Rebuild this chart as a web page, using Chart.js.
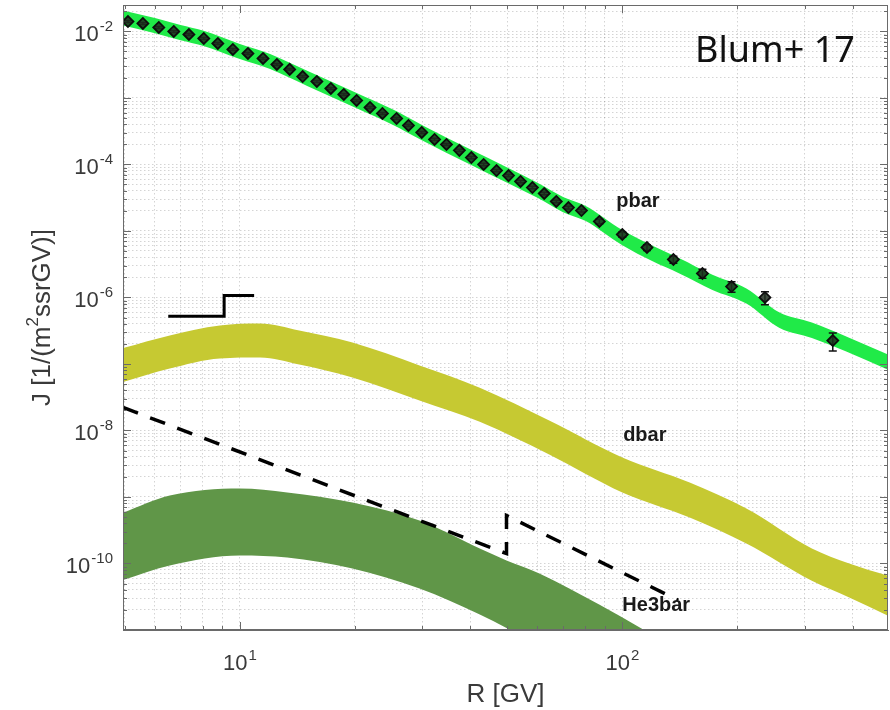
<!DOCTYPE html>
<html>
<head>
<meta charset="utf-8">
<script src="https://cdn.jsdelivr.net/npm/chart.js@4.4.1/dist/chart.umd.min.js"></script>
<style>
  html, body { margin: 0; padding: 0; background: #fff; }
  #wrap { width: 890px; height: 710px; }
</style>
</head>
<body>
<div id="wrap"><canvas id="chart" width="890" height="710"></canvas></div>
<script>
// Axis ranges (R in GV, J in 1/(m^2 s sr GV))
const xMin = 4.95, xMax = 495;
const yMin = 1e-11, yMax = 2.5e-2;

// tick labels are 10^exponent
const xTickValues = [10, 100];
const xTickExponents = ['1', '2'];
const yTickValues = [1e-10, 1e-8, 1e-6, 1e-4, 1e-2];
const yTickExponents = ['-10', '-8', '-6', '-4', '-2'];

// pbar model band
const pbarBandR = [4.9, 6, 7, 8, 10, 12, 15, 20, 25, 30, 40, 50, 60, 70, 80, 100, 120, 141, 172, 211, 257, 313, 385, 500];
const pbarBandUpper = [2.1e-2, 1.59e-2, 1.25e-2, 1.03e-2, 6.5e-3, 4.6e-3, 2.56e-3, 1.22e-3, 6.8e-4, 3.9e-4, 1.69e-4, 9.0e-5, 5.3e-5, 3.25e-5, 2.4e-5, 1.03e-5, 6.0e-6, 3.9e-6, 2.2e-6, 1.37e-6, 6.0e-7, 4.2e-7, 2.6e-7, 1.36e-7];
const pbarBandLower = [1.25e-2, 9.4e-3, 7.4e-3, 6.1e-3, 3.85e-3, 2.73e-3, 1.52e-3, 7.2e-4, 4.0e-4, 2.3e-4, 1.0e-4, 5.3e-5, 3.15e-5, 1.92e-5, 1.42e-5, 6.1e-6, 3.5e-6, 2.3e-6, 1.3e-6, 8.1e-7, 3.5e-7, 2.46e-7, 1.54e-7, 8.0e-8];

// pbar measured points
const pbarR = [5.10, 5.58, 6.14, 6.72, 7.36, 8.05, 8.76, 9.59, 10.5, 11.5, 12.5, 13.5, 14.6, 15.9, 17.3, 18.7, 20.2, 21.9, 23.6, 25.7, 27.6, 29.9, 32.3, 34.7, 37.5, 40.3, 43.4, 46.9, 50.4, 54.2, 58.2, 62.5, 67.2, 72.3, 78.2, 87.1, 100, 116, 136, 162, 193, 236, 355];
const pbarJ = [1.41e-2, 1.32e-2, 1.15e-2, 1.0e-2, 9.0e-3, 7.85e-3, 6.6e-3, 5.36e-3, 4.67e-3, 3.93e-3, 3.19e-3, 2.69e-3, 2.10e-3, 1.77e-3, 1.39e-3, 1.13e-3, 9.17e-4, 7.2e-4, 5.85e-4, 4.92e-4, 3.86e-4, 3.03e-4, 2.38e-4, 2.0e-4, 1.63e-4, 1.27e-4, 1.0e-4, 8.1e-5, 6.8e-5, 5.55e-5, 4.5e-5, 3.66e-5, 2.78e-5, 2.25e-5, 2.03e-5, 1.39e-5, 8.85e-6, 5.65e-6, 3.73e-6, 2.3e-6, 1.46e-6, 1.0e-6, 2.25e-7];
const pbarErr = [5e-4, 4.5e-4, 4e-4, 3.5e-4, 3e-4, 2.6e-4, 2.2e-4, 1.8e-4, 1.6e-4, 1.3e-4, 1.1e-4, 9e-5, 7e-5, 6e-5, 5e-5, 4e-5, 3.3e-5, 2.6e-5, 2.1e-5, 1.8e-5, 1.4e-5, 1.1e-5, 9e-6, 7.5e-6, 6e-6, 5e-6, 4e-6, 3.3e-6, 2.8e-6, 2.3e-6, 1.9e-6, 1.6e-6, 1.3e-6, 1.1e-6, 1.0e-6, 1.1e-6, 8e-7, 5.7e-7, 4.5e-7, 3.5e-7, 2.6e-7, 2.2e-7, 6.8e-8];

// dbar model band
const dbarR = [4.9, 6.56, 8.87, 11.3, 14.3, 19.7, 29.5, 42.4, 64.4, 100, 150, 211, 313, 392, 500];
const dbarUpper = [1.71e-7, 2.69e-7, 3.79e-7, 4.06e-7, 3.19e-7, 2.1e-7, 9.5e-8, 4.4e-8, 1.41e-8, 3.93e-9, 1.65e-9, 6.7e-10, 1.68e-10, 1.0e-10, 6.4e-11];
const dbarLower = [5.27e-8, 8.55e-8, 1.21e-7, 1.25e-7, 9.8e-8, 6.27e-8, 2.83e-8, 1.35e-8, 4.35e-9, 1.17e-9, 4.92e-10, 2.0e-10, 5.5e-11, 3.08e-11, 1.6e-11];

// He3bar model band
const he3R = [4.9, 6.56, 10, 13.3, 19.7, 29.5, 42.4, 49.8, 60.7, 87, 114, 141];
const he3Upper = [5.65e-10, 1.05e-9, 1.34e-9, 1.17e-9, 8.26e-10, 4.43e-10, 1.68e-10, 1.11e-10, 7.1e-11, 2.42e-11, 1.0e-11, 4.6e-12];
const he3Lower = [5.55e-11, 9.33e-11, 1.32e-10, 1.23e-10, 8.4e-11, 4.2e-11, 1.71e-11, 1.07e-11, 5.7e-12, 2.1e-12, 9.3e-13, 5.4e-13];

// sensitivity lines
const dbarSensR = [6.5, 9.1, 10.9];
const dbarSensJ = [5.2e-7, 1.07e-6, 1.07e-6];
const he3SensR = [4.95, 49.8, 49.8, 140];
const he3SensJ = [2.22e-8, 1.41e-10, 5.27e-10, 2.8e-11];

const seriesLabels = ['pbar', 'dbar', 'He3bar'];
const seriesColors = ['rgb(32,234,72)', 'rgb(198,201,50)', 'rgb(96,150,72)'];

const toPoints = (xs, ys) => xs.map((x, i) => ({ x: x, y: ys[i] }));

function logGridValues(min, max) {
  const vals = [];
  for (let e = Math.floor(Math.log10(min)); e <= Math.ceil(Math.log10(max)); e++) {
    for (let m = 1; m <= 9; m++) {
      const v = m * Math.pow(10, e);
      if (v >= min * 0.999 && v <= max * 1.001) vals.push(v);
    }
  }
  return vals;
}
const isDecade = v => Math.abs(Math.log10(v) - Math.round(Math.log10(v))) < 1e-6;

const xGrid = logGridValues(xMin, xMax);
const yGrid = logGridValues(yMin, yMax);

// text placed in data coordinates
const annotations = [
  { text: seriesLabels[0], x: 96.4, y: 2.33e-5, font: 'bold 20px "Liberation Sans", Arial, sans-serif', color: '#1a1a1a' },
  { text: seriesLabels[1], x: 100.5, y: 6.84e-9, font: 'bold 20px "Liberation Sans", Arial, sans-serif', color: '#1a1a1a' },
  { text: seriesLabels[2], x: 100, y: 1.9e-11, font: 'bold 20px "Liberation Sans", Arial, sans-serif', color: '#1a1a1a' },
  { text: 'Blum+ 17', x: 155, y: 3.42e-3, font: '36px "Noto Sans", sans-serif', color: '#111' }
];

const axisColor = '#6a6a6a';
const labelColor = '#3a3a3a';
const baseFont = '22px "Liberation Sans", Arial, sans-serif';
const expFont = '15px "Liberation Sans", Arial, sans-serif';
const titleFont = '26px "Liberation Sans", Arial, sans-serif';
const titleSupFont = '17px "Liberation Sans", Arial, sans-serif';

// box, inward ticks, tick labels, error bars and text labels
const matlabAxes = {
  id: 'matlabAxes',
  beforeDatasetDraw(chart, args) {
    if (args.index !== 0) return;
    const { ctx, scales: { x, y } } = chart;
    ctx.save();
    ctx.strokeStyle = '#111';
    ctx.lineWidth = 1.5;
    pbarR.forEach((r, i) => {
      const px = x.getPixelForValue(r);
      const top = y.getPixelForValue(pbarJ[i] + pbarErr[i]);
      const bot = y.getPixelForValue(pbarJ[i] - pbarErr[i]);
      ctx.beginPath();
      ctx.moveTo(px, top); ctx.lineTo(px, bot);
      ctx.moveTo(px - 4, top); ctx.lineTo(px + 4, top);
      ctx.moveTo(px - 4, bot); ctx.lineTo(px + 4, bot);
      ctx.stroke();
    });
    ctx.restore();
  },
  afterDatasetsDraw(chart) {
    const { ctx, chartArea: a, scales: { x, y } } = chart;
    ctx.save();
    ctx.strokeStyle = axisColor;
    ctx.lineWidth = 1;
    ctx.beginPath();
    xGrid.forEach(v => {
      const px = Math.round(x.getPixelForValue(v)) + 0.5;
      const len = isDecade(v) ? 8 : 4;
      ctx.moveTo(px, a.bottom); ctx.lineTo(px, a.bottom - len);
      ctx.moveTo(px, a.top); ctx.lineTo(px, a.top + len);
    });
    yGrid.forEach(v => {
      const py = Math.round(y.getPixelForValue(v)) + 0.5;
      const len = isDecade(v) ? 8 : 4;
      ctx.moveTo(a.left, py); ctx.lineTo(a.left + len, py);
      ctx.moveTo(a.right, py); ctx.lineTo(a.right - len, py);
    });
    ctx.stroke();
    ctx.strokeRect(Math.round(a.left) + 0.5, Math.round(a.top) + 0.5, Math.round(a.right - a.left) - 1, Math.round(a.bottom - a.top) - 1);

    // tick labels 10^n
    ctx.fillStyle = labelColor;
    ctx.textBaseline = 'alphabetic';
    ctx.textAlign = 'left';
    yTickValues.forEach((v, i) => {
      const py = y.getPixelForValue(v);
      ctx.font = expFont;
      const we = ctx.measureText(yTickExponents[i]).width;
      ctx.font = baseFont;
      const wb = ctx.measureText('10').width;
      const right = a.left - 10;
      ctx.fillText('10', right - we - wb - 1, py + 10);
      ctx.font = expFont;
      ctx.fillText(yTickExponents[i], right - we, py);
    });
    xTickValues.forEach((v, i) => {
      const px = x.getPixelForValue(v);
      ctx.font = expFont;
      const we = ctx.measureText(xTickExponents[i]).width;
      ctx.font = baseFont;
      const wb = ctx.measureText('10').width;
      const left = px - (wb + we + 1) / 2;
      ctx.fillText('10', left, a.bottom + 40);
      ctx.font = expFont;
      ctx.fillText(xTickExponents[i], left + wb + 1, a.bottom + 30);
    });

    // y axis title with superscript
    ctx.save();
    ctx.translate(50, (a.top + a.bottom) / 2);
    ctx.rotate(-Math.PI / 2);
    const parts = [['J [1/(m', titleFont, 0], ['2', titleSupFont, -12], ['ssrGV)]', titleFont, 0]];
    let total = 0;
    parts.forEach(p => { ctx.font = p[1]; total += ctx.measureText(p[0]).width; });
    let cx = -total / 2;
    parts.forEach(p => {
      ctx.font = p[1];
      ctx.fillText(p[0], cx, p[2]);
      cx += ctx.measureText(p[0]).width;
    });
    ctx.restore();

    annotations.forEach(t => {
      ctx.font = t.font;
      ctx.fillStyle = t.color;
      ctx.fillText(t.text, x.getPixelForValue(t.x), y.getPixelForValue(t.y));
    });
    ctx.restore();
  }
};

const bandStyle = { borderWidth: 0, borderColor: 'rgba(0,0,0,0)', pointRadius: 0, cubicInterpolationMode: 'monotone' };

new Chart(document.getElementById('chart'), {
  type: 'line',
  data: {
    datasets: [
      {
        label: 'pbar data',
        data: toPoints(pbarR, pbarJ),
        showLine: false,
        pointStyle: 'rectRot',
        pointRadius: 5.5,
        pointBorderWidth: 1.8,
        pointBorderColor: '#0d0d0d',
        pointBackgroundColor: 'rgba(30,45,30,0.85)',
        order: 0
      },
      {
        label: 'dbar sensitivity',
        data: toPoints(dbarSensR, dbarSensJ),
        stepped: true,
        borderColor: '#000',
        borderWidth: 3,
        pointRadius: 0,
        fill: false,
        order: 1
      },
      {
        label: 'He3bar sensitivity',
        data: toPoints(he3SensR, he3SensJ),
        borderColor: '#000',
        borderWidth: 3.5,
        borderDash: [16, 13],
        pointRadius: 0,
        fill: false,
        order: 1
      },
      { label: 'pbar upper', data: toPoints(pbarBandR, pbarBandUpper), fill: false, order: 2, ...bandStyle },
      { label: seriesLabels[0], data: toPoints(pbarBandR, pbarBandLower), fill: '-1', backgroundColor: seriesColors[0], order: 2, ...bandStyle },
      { label: 'dbar upper', data: toPoints(dbarR, dbarUpper), fill: false, order: 3, ...bandStyle },
      { label: seriesLabels[1], data: toPoints(dbarR, dbarLower), fill: '-1', backgroundColor: seriesColors[1], order: 3, ...bandStyle },
      { label: 'He3bar upper', data: toPoints(he3R, he3Upper), fill: false, order: 4, ...bandStyle },
      { label: seriesLabels[2], data: toPoints(he3R, he3Lower), fill: '-1', backgroundColor: seriesColors[2], order: 4, ...bandStyle }
    ]
  },
  options: {
    responsive: false,
    animation: false,
    devicePixelRatio: 1,
    layout: { autoPadding: false, padding: { top: 5, right: 2, left: 0, bottom: 0 } },
    plugins: {
      legend: { display: false },
      tooltip: { enabled: false }
    },
    scales: {
      x: {
        type: 'logarithmic',
        min: xMin,
        max: xMax,
        afterBuildTicks: scale => { scale.ticks = xGrid.map(v => ({ value: v })); },
        afterFit: scale => {
          scale.height = 80;
          scale.paddingLeft = 0; scale.paddingRight = 0;
          scale.paddingTop = 0; scale.paddingBottom = 0;
        },
        grid: { color: 'rgba(0,0,0,0.17)', lineWidth: 1, drawTicks: false },
        border: { display: true, color: axisColor, dash: [1.5, 2.5] },
        ticks: { display: false, autoSkip: false },
        title: {
          display: true,
          text: 'R [GV]',
          color: labelColor,
          font: { family: '"Liberation Sans", Arial, sans-serif', size: 26 },
          padding: { top: 0, bottom: 0 }
        }
      },
      y: {
        type: 'logarithmic',
        min: yMin,
        max: yMax,
        afterBuildTicks: scale => { scale.ticks = yGrid.map(v => ({ value: v })); },
        afterFit: scale => {
          scale.width = 123;
          scale.paddingLeft = 0; scale.paddingRight = 0;
          scale.paddingTop = 0; scale.paddingBottom = 0;
        },
        grid: { color: 'rgba(0,0,0,0.17)', lineWidth: 1, drawTicks: false },
        border: { display: true, color: axisColor, dash: [1.5, 2.5] },
        ticks: { display: false, autoSkip: false }
      }
    }
  },
  plugins: [matlabAxes]
});
</script>
</body>
</html>
